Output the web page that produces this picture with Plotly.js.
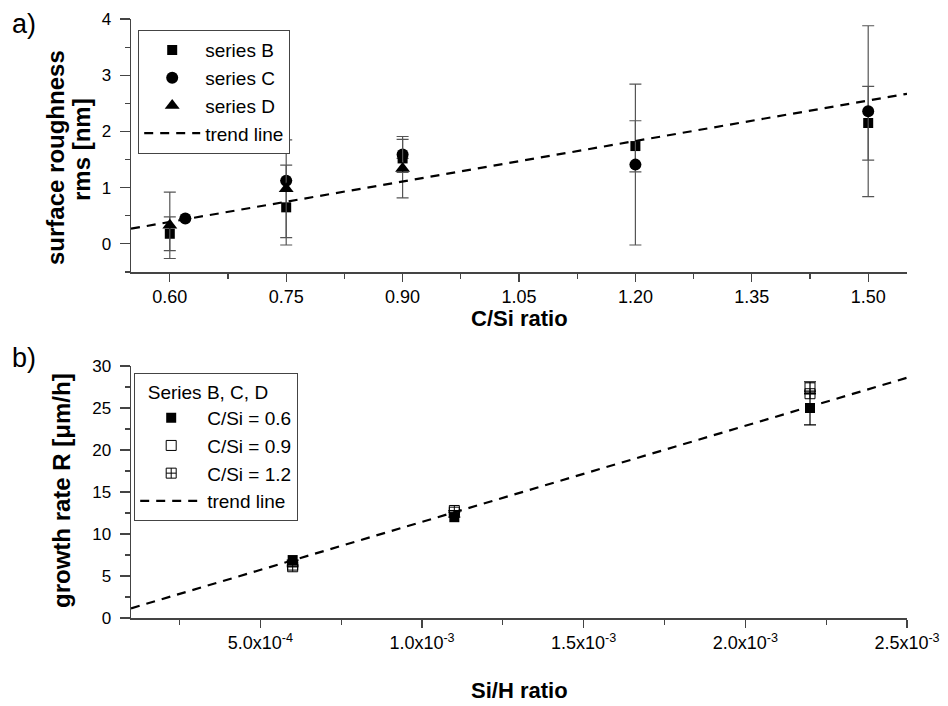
<!DOCTYPE html>
<html><head><meta charset="utf-8">
<script src="https://cdn.plot.ly/plotly-3.0.1.min.js"></script>
<style>html,body{margin:0;padding:0;background:#fff}#chart{width:948px;height:706px}</style>
</head><body><div id="chart"></div>
<script>
// ---- Panel a: surface roughness vs C/Si ratio ----
const csiB = [0.60, 0.75, 0.90, 1.20, 1.50];
const rmsB = [0.18, 0.65, 1.52, 1.74, 2.15];
const rmsBplus  = [0.30, 0.75, null, 0.45, 0.65];
const rmsBminus = [0.30, 0.67, null, 0.46, 0.66];

const csiC = [0.62, 0.75, 0.90, 1.20, 1.50];
const rmsC = [0.45, 1.125, 1.59, 1.41, 2.36];
const rmsCerr = [null, null, 0.32, 1.43, 1.52];

const csiD = [0.60, 0.75, 0.90];
const rmsD = [0.33, 0.98, 1.34];
const rmsDerr = [0.59, 0.87, 0.52];

const trendAx = [0.55, 1.55];
const trendAy = [0.27, 2.67];

const xTicksA = [0.60, 0.75, 0.90, 1.05, 1.20, 1.35, 1.50];
const xTickTextA = ["0.60", "0.75", "0.90", "1.05", "1.20", "1.35", "1.50"];
const yTicksA = [0, 1, 2, 3, 4];
const yTickTextA = ["0", "1", "2", "3", "4"];

// ---- Panel b: growth rate vs Si/H ratio ----
const sih = [6.0e-4, 1.1e-3, 2.2e-3];
const rate06 = [6.9, 12.0, 25.0];
const rate06err = [null, null, 2.0];
const rate09 = [6.3, 12.6, 27.4];
const rate09err = [null, null, 0.7];
const rate12 = [6.1, 12.8, 26.7];
const rate12err = [null, null, null];

const trendBx = [1.0e-4, 2.5e-3];
const trendBy = [1.15, 28.6];

const xTicksB = [5.0e-4, 1.0e-3, 1.5e-3, 2.0e-3, 2.5e-3];
const xTickTextB = ["5.0x10<sup>-4</sup>", "1.0x10<sup>-3</sup>", "1.5x10<sup>-3</sup>", "2.0x10<sup>-3</sup>", "2.5x10<sup>-3</sup>"];
const yTicksB = [0, 5, 10, 15, 20, 25, 30];
const yTickTextB = ["0", "5", "10", "15", "20", "25", "30"];

// ---- helpers for layout positions (pixels -> paper) ----
const W = 948, H = 706;
const px = v => v / W;
const py = v => 1 - v / H;

const AX = '#444';
const ERRA = '#555';
const SANS = 'Liberation Sans, Arial, sans-serif';
const NARROW = 'Liberation Sans Narrow, Liberation Sans, Arial, sans-serif';
const fontTick = {family: SANS, size: 17, color: '#000'};
const fontTickN = {family: NARROW, size: 18, color: '#000'};
const fontLeg = {family: SANS, size: 19, color: '#000'};

function err(arr, minus) {
  const o = {type: 'data', array: arr, color: ERRA, thickness: 1.2, width: 6, visible: true};
  if (minus) { o.symmetric = false; o.arrayminus = minus; }
  return o;
}

const traces = [
  {x: csiB, y: rmsB, name: 'series B', type: 'scatter', mode: 'markers', xaxis: 'x', yaxis: 'y', legend: 'legend',
   marker: {symbol: 'square', size: 10, color: '#000'}, error_y: err(rmsBplus, rmsBminus)},
  {x: csiC, y: rmsC, name: 'series C', type: 'scatter', mode: 'markers', xaxis: 'x', yaxis: 'y', legend: 'legend',
   marker: {symbol: 'circle', size: 12, color: '#000'}, error_y: err(rmsCerr)},
  {x: csiD, y: rmsD, name: 'series D', type: 'scatter', mode: 'markers', xaxis: 'x', yaxis: 'y', legend: 'legend',
   marker: {symbol: 'triangle-up', size: 13, color: '#000'}, error_y: err(rmsDerr)},
  {x: trendAx, y: trendAy, name: 'trend line', type: 'scatter', mode: 'lines', xaxis: 'x', yaxis: 'y', legend: 'legend',
   line: {color: '#000', width: 2.2, dash: '9px,7px'}},

  {x: sih, y: rate06, name: 'C/Si = 0.6', type: 'scatter', mode: 'markers', xaxis: 'x2', yaxis: 'y2', legend: 'legend2',
   marker: {symbol: 'square', size: 10, color: '#000'},
   error_y: {type: 'data', array: rate06err, color: '#000', thickness: 1.2, width: 6}},
  {x: sih, y: rate09, name: 'C/Si = 0.9', type: 'scatter', mode: 'markers', xaxis: 'x2', yaxis: 'y2', legend: 'legend2',
   marker: {symbol: 'square-open', size: 10, color: '#000', line: {width: 1}},
   error_y: {type: 'data', array: rate09err, color: '#000', thickness: 1.2, width: 6}},
  {x: sih, y: rate12, name: 'C/Si = 1.2', type: 'scatter', mode: 'markers', xaxis: 'x2', yaxis: 'y2', legend: 'legend2',
   marker: {symbol: 'square-cross-open', size: 10, color: '#000', line: {width: 1}},
   error_y: {type: 'data', array: rate12err, color: '#000', thickness: 1.2, width: 6}},
  {x: trendBx, y: trendBy, name: 'trend line', type: 'scatter', mode: 'lines', xaxis: 'x2', yaxis: 'y2', legend: 'legend2',
   line: {color: '#000', width: 2.2, dash: '9px,7px'}}
];

const domX = [px(131), px(907)];
const domYa = [py(272), py(19)];
const domYb = [py(618), py(366)];

function baseAxis(extra) {
  return Object.assign({
    showgrid: false, zeroline: false, showline: true, linecolor: AX, linewidth: 1.5,
    ticks: 'outside', ticklen: 10, tickwidth: 1.2, tickcolor: AX, fixedrange: true
  }, extra);
}
function minor(dir, t0, dt) {
  return {ticks: dir, ticklen: 5, tick0: t0, dtick: dt, tickcolor: AX, tickwidth: 1.2};
}
function ann(text, x, y, size, angle) {
  return {text: text, x: px(x), y: py(y), xref: 'paper', yref: 'paper', showarrow: false,
    xanchor: 'center', yanchor: 'middle', textangle: angle || 0,
    font: {family: SANS, size: size, color: '#000'}};
}

const layout = {
  width: W, height: H,
  margin: {l: 0, r: 0, t: 0, b: 0},
  paper_bgcolor: '#fff', plot_bgcolor: '#fff',
  showlegend: true,
  xaxis: baseAxis({domain: domX, anchor: 'y', range: [0.55, 1.55], tickvals: xTicksA, ticktext: xTickTextA,
    ticklen: 8, tickfont: fontTickN, ticklabelstandoff: 0, minor: minor('outside', 0.6, 0.075)}),
  yaxis: baseAxis({domain: domYa, anchor: 'x', range: [-0.5, 4], tickvals: yTicksA, ticktext: yTickTextA,
    tickfont: fontTick, ticklabelstandoff: 5, minor: minor('outside', 0, 0.5)}),
  xaxis3: baseAxis({overlaying: 'x', side: 'top', anchor: 'y', range: [0.55, 1.55], tickvals: xTicksA, showticklabels: false,
    ticks: 'inside', ticklen: 10, minor: minor('inside', 0.6, 0.075)}),
  yaxis3: baseAxis({overlaying: 'y', side: 'right', anchor: 'x', range: [-0.5, 4], tickvals: yTicksA, showticklabels: false,
    ticks: 'inside', ticklen: 9, minor: minor('inside', 0, 0.5)}),

  xaxis2: baseAxis({domain: domX, anchor: 'y2', range: [1.0e-4, 2.5e-3], tickvals: xTicksB, ticktext: xTickTextB,
    ticklen: 8, tickfont: fontTickN, ticklabelstandoff: 0, minor: minor('outside', 0, 2.5e-4)}),
  yaxis2: baseAxis({domain: domYb, anchor: 'x2', range: [0, 30], tickvals: yTicksB, ticktext: yTickTextB,
    tickfont: fontTick, ticklabelstandoff: 5, minor: minor('outside', 0, 2.5)}),
  xaxis4: baseAxis({overlaying: 'x2', side: 'top', anchor: 'y2', range: [1.0e-4, 2.5e-3], tickvals: xTicksB, showticklabels: false,
    ticks: 'inside', ticklen: 10, minor: minor('inside', 0, 2.5e-4)}),
  yaxis4: baseAxis({overlaying: 'y2', side: 'right', anchor: 'x2', range: [0, 30], tickvals: yTicksB, showticklabels: false,
    ticks: 'inside', ticklen: 9, minor: minor('inside', 0, 2.5)}),

  legend: {x: px(138), y: py(30), xanchor: 'left', yanchor: 'top', bgcolor: '#fff', bordercolor: '#444', borderwidth: 1.2,
    font: fontLeg, itemwidth: 56, tracegroupgap: 0, entrywidth: 100},
  legend2: {x: px(134), y: py(373), xanchor: 'left', yanchor: 'top', bgcolor: '#fff', bordercolor: '#444', borderwidth: 1.2,
    font: fontLeg, itemwidth: 62, entrywidth: 115,
    title: {text: '\u00a0\u00a0Series B, C, D', font: fontLeg}},

  annotations: [
    ann('a)', 24, 24, 27),
    ann('b)', 24, 358, 27),
    ann('<b>surface roughness</b>', 55, 158, 24, -90),
    ann('<b>rms [nm]</b>', 82, 150, 24, -90),
    ann('<b>growth rate R [μm/h]</b>', 61, 491, 24, -90),
    ann('<b>C/Si ratio</b>', 519, 319, 22),
    ann('<b>Si/H ratio</b>', 519, 690, 22)
  ]
};

Plotly.newPlot('chart', traces, layout, {staticPlot: true, displayModeBar: false});
</script></body></html>
